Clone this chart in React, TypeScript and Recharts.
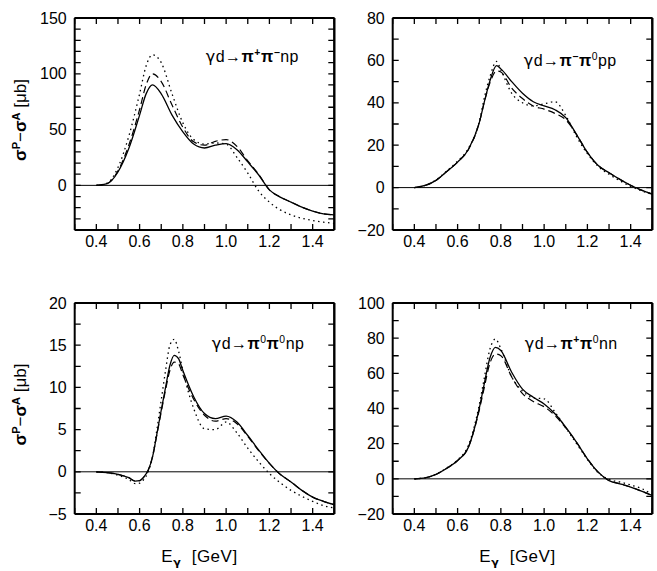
import { LineChart, Line, XAxis, YAxis, ReferenceLine } from 'recharts';

// photon energy axis (GeV)
const xTicks = [0.3, 0.4, 0.5, 0.6, 0.7, 0.8, 0.9, 1.0, 1.1, 1.2, 1.3, 1.4, 1.5];
const xLabels = [0.4, 0.6, 0.8, 1.0, 1.2, 1.4];

// gamma d -> pi+ pi- n p
const e1 = [0.4, 0.45, 0.5, 0.55, 0.6, 0.63, 0.66, 0.7, 0.75, 0.8, 0.85, 0.9, 0.95, 1.0, 1.05, 1.1, 1.15, 1.2, 1.25, 1.3, 1.35, 1.4, 1.45, 1.5];
const solid1 = [0, 1.5, 12, 33, 63, 82, 90, 82, 63, 48, 37, 33.5, 36, 37.5, 32, 21, 9.5, -4, -10.5, -15, -19.5, -23, -25.5, -26.5];
const dashed1 = [0, 1.6, 13, 36, 68, 90, 100, 93, 72, 52, 39, 36, 39.5, 41, 35, 22, 10, -4, -10.5, -15, -19.5, -23, -25.5, -26.5];
const dotted1 = [0, 2, 16, 44, 82, 107, 117, 110, 82, 56, 41, 37, 38, 37, 25, 11, -5, -15, -22, -26.5, -29.5, -31.5, -33, -34];
const yTicks1 = [-40, -30, -20, -10, 0, 10, 20, 30, 40, 50, 60, 70, 80, 90, 100, 110, 120, 130, 140, 150];
const yLabels1 = [0, 50, 100, 150];

// gamma d -> pi- pi0 p p
const e2 = [0.4, 0.45, 0.5, 0.55, 0.6, 0.65, 0.7, 0.725, 0.75, 0.78, 0.8, 0.85, 0.9, 0.95, 1.0, 1.05, 1.1, 1.15, 1.2, 1.25, 1.3, 1.35, 1.4, 1.45, 1.5];
const solid2 = [0, 1, 3.4, 7.6, 12, 18, 30.5, 41, 50.5, 57.5, 56, 50, 44.5, 40.5, 38.5, 36.7, 33, 25, 16.6, 10.4, 7, 3.9, 1.1, -1.2, -3.1];
const dashed2 = [0, 1, 3.4, 7.6, 12, 18, 30.5, 41, 49.5, 55, 54.5, 47, 42, 38.5, 37, 35, 32, 25, 16.6, 10.4, 7, 3.9, 1.1, -1.2, -3.1];
const dotted2 = [0, 1, 3.6, 7.8, 12.5, 18.5, 31, 43, 52.5, 59.5, 55.5, 44.5, 40, 38.5, 39.5, 40.5, 34, 24, 16, 10, 6.3, 3.2, 0.6, -1.5, -3.2];
const yTicks2 = [-20, -10, 0, 10, 20, 30, 40, 50, 60, 70, 80];
const yLabels2 = [-20, 0, 20, 40, 60, 80];

// gamma d -> pi0 pi0 n p
const e3 = [0.4, 0.45, 0.5, 0.55, 0.58, 0.6, 0.62, 0.64, 0.66, 0.68, 0.7, 0.72, 0.74, 0.76, 0.78, 0.8, 0.85, 0.9, 0.95, 1.0, 1.05, 1.1, 1.15, 1.2, 1.25, 1.3, 1.35, 1.4, 1.45, 1.5];
const solid3 = [0, -0.1, -0.3, -0.7, -1.1, -1.05, -0.6, 0.2, 1.8, 4.5, 7.3, 10, 12.6, 13.8, 13.4, 12, 8.9, 6.9, 6.3, 6.6, 5.9, 4.3, 2.6, 1.0, -0.3, -1.2, -2.2, -3.0, -3.5, -3.9];
const dashed3 = [0, -0.1, -0.3, -0.7, -1.1, -1.05, -0.6, 0.2, 1.8, 4.4, 7.1, 9.7, 12, 13.0, 12.8, 11.5, 8.6, 6.7, 6.0, 6.3, 5.7, 4.2, 2.5, 1.0, -0.3, -1.2, -2.2, -3.0, -3.5, -3.9];
const dotted3 = [0, -0.1, -0.4, -0.9, -1.4, -1.35, -0.9, 0.0, 1.8, 5, 8.5, 12, 15, 15.7, 14.3, 12, 7.5, 5.1, 5.0, 5.9, 4.6, 2.8, 1.2, -0.2, -1.3, -2.2, -2.9, -3.5, -4.0, -4.3];
const yTicks3 = [-5, -2.5, 0, 2.5, 5, 7.5, 10, 12.5, 15, 17.5, 20];
const yLabels3 = [-5, 0, 5, 10, 15, 20];

// gamma d -> pi+ pi0 n n
const e4 = [0.4, 0.45, 0.5, 0.55, 0.6, 0.65, 0.7, 0.72, 0.75, 0.775, 0.8, 0.85, 0.9, 0.95, 1.0, 1.05, 1.1, 1.15, 1.2, 1.25, 1.3, 1.35, 1.4, 1.45, 1.5];
const solid4 = [0, 0.6, 2.5, 6, 10.4, 18, 40, 52, 69, 74.8, 73, 60.6, 51, 46.4, 42.6, 37, 29.4, 20.8, 11.4, 3.8, -1, -2.8, -4.7, -7, -9.5];
const dashed4 = [0, 0.6, 2.5, 6, 10.4, 18, 39, 50, 66, 71, 70, 58, 48.5, 44, 41, 36, 29, 20.8, 11.4, 3.8, -1, -2.8, -4.7, -7, -9.5];
const dotted4 = [0, 0.6, 2.6, 6.2, 10.8, 19, 42, 55, 74, 79.5, 74, 58, 50, 46, 45.5, 38, 29, 20, 11, 3.5, -0.3, -1.8, -3.5, -5.5, -9];
const yTicks4 = [-20, -10, 0, 10, 20, 30, 40, 50, 60, 70, 80, 90, 100];
const yLabels4 = [-20, 0, 20, 40, 60, 80, 100];

const FONT = "'Liberation Sans', Arial, sans-serif";
const GAMMA = "'DejaVu Sans', sans-serif";
const FS = 16;
const TICK_PX = 6;
const X_DOMAIN: [number, number] = [0.3, 1.5];

type Seg = { t: string; sup?: boolean; sub?: boolean; bold?: boolean; font?: string };

const near = (list: number[], v: number) => list.some(l => Math.abs(l - v) < 1e-6);

function segs(list: Seg[], size: number) {
  let shift = 0;
  return list.map((s, i) => {
    const want = s.sup ? -6 : s.sub ? 4 : 0;
    const dy = want - shift;
    shift = want;
    return (
      <tspan key={i} dy={dy} fontSize={s.sup || s.sub ? size * 0.65 : size}
        fontWeight={s.bold ? 'bold' : 'normal'} fontFamily={s.font}>
        {s.t}
      </tspan>
    );
  });
}

const yTitle: Seg[] = [
  { t: '\u03c3', bold: true }, { t: 'P', sup: true, bold: true }, { t: '\u2212' },
  { t: '\u03c3', bold: true }, { t: 'A', sup: true, bold: true }, { t: '\u00a0[\u03bcb]' },
];
const xTitle: Seg[] = [{ t: 'E' }, { t: '\u03b3', sub: true, bold: true, font: GAMMA }, { t: '\u00a0\u00a0[GeV]' }];

interface PanelCfg {
  left: number; top: number; plotLeft: number; plotTop: number; plotW: number; plotH: number;
  e: number[]; solid: number[]; dashed: number[]; dotted: number[];
  domain: [number, number]; yTicks: number[]; yLabels: number[];
  title: Seg[]; titleDx: number; titleDy: number;
  yTitle?: boolean; xTitle?: boolean;
}

function Panel({ cfg }: { cfg: PanelCfg }) {
  const data = cfg.e.map((e, i) => ({ e, solid: cfg.solid[i], dashed: cfg.dashed[i], dotted: cfg.dotted[i] }));
  const yw = cfg.plotLeft - cfg.left;
  const W = yw + cfg.plotW + 6;
  const H = cfg.plotTop - cfg.top + cfg.plotH + 60;
  const frame = { stroke: '#000', strokeWidth: 2 };
  const tickFont = { fill: '#000', fontSize: FS, fontFamily: FONT };
  const px = cfg.plotLeft - cfg.left;
  const py = cfg.plotTop - cfg.top;
  const [y0, y1] = cfg.domain;
  const [x0, x1] = X_DOMAIN;
  const sx = (v: number) => px + ((v - x0) / (x1 - x0)) * cfg.plotW;
  const sy = (v: number) => py + cfg.plotH - ((v - y0) / (y1 - y0)) * cfg.plotH;
  const xFmt = (v: number) => (near(xLabels, v) ? v.toFixed(1) : '');
  const yFmt = (v: number) => (near(cfg.yLabels, v) ? (v < 0 ? '\u2212' + Math.abs(v) : String(v)) : '');
  const pr = px + cfg.plotW;
  const pb = py + cfg.plotH;
  return (
    <div style={{ position: 'absolute', left: cfg.left, top: cfg.top, width: W, height: H }}>
      <LineChart width={W} height={H} data={data} margin={{ top: py, right: 6, left: 0, bottom: 0 }}>
        <XAxis type="number" dataKey="e" domain={X_DOMAIN} allowDataOverflow ticks={xTicks}
          interval={0} tickLine={false} tickSize={0} tickMargin={6} tick={tickFont} tickFormatter={xFmt}
          height={60} axisLine={frame} />
        <YAxis type="number" domain={cfg.domain} allowDataOverflow ticks={cfg.yTicks}
          interval={0} tickLine={false} tickSize={0} tickMargin={8} tick={tickFont} tickFormatter={yFmt}
          width={yw} axisLine={frame} />
        <ReferenceLine y={y1} stroke="#000" strokeWidth={2} />
        <ReferenceLine x={x1} stroke="#000" strokeWidth={2} />
        <ReferenceLine y={0} stroke="#000" strokeWidth={1} />
        <Line type="monotone" dataKey="dotted" stroke="#000" strokeWidth={1.3}
          strokeDasharray="1.5 3.5" dot={false} isAnimationActive={false} />
        <Line type="monotone" dataKey="dashed" stroke="#000" strokeWidth={1.2}
          strokeDasharray="7 4" dot={false} isAnimationActive={false} />
        <Line type="monotone" dataKey="solid" stroke="#000" strokeWidth={1.3}
          dot={false} isAnimationActive={false} />
      </LineChart>
      <svg width={W} height={H} style={{ position: 'absolute', left: 0, top: 0, pointerEvents: 'none' }}>
        <line x1={px} x2={pr} y1={py} y2={py} stroke="black" strokeWidth={2} />
        <line x1={pr} x2={pr} y1={py} y2={pb} stroke="black" strokeWidth={2} />
        {xTicks.map(t => (
          <path key={'x' + t} d={`M${sx(t)},${pb}V${pb - TICK_PX}M${sx(t)},${py}V${py + TICK_PX}`}
            stroke="black" strokeWidth={1.3} fill="none" />
        ))}
        {cfg.yTicks.map(t => (
          <path key={'y' + t} d={`M${px},${sy(t)}H${px + TICK_PX}M${pr},${sy(t)}H${pr - TICK_PX}`}
            stroke="black" strokeWidth={1.3} fill="none" />
        ))}
        <text x={px + cfg.titleDx} y={py + cfg.titleDy} fontSize={FS} fontFamily={FONT} fill="#000" letterSpacing={0.5}>
          {segs(cfg.title, FS)}
        </text>
        {cfg.yTitle && (
          <text x={26} y={py + cfg.plotH / 2 - 4} transform={`rotate(-90 26 ${py + cfg.plotH / 2 - 4})`}
            textAnchor="middle" fontSize={17} fontFamily={FONT} fill="#000">
            {segs(yTitle, 17)}
          </text>
        )}
        {cfg.xTitle && (
          <text x={px + cfg.plotW / 2 - 5} y={py + cfg.plotH + 48} textAnchor="middle" fontSize={17} fontFamily={FONT}
            fill="#000" letterSpacing={0.5}>
            {segs(xTitle, 17)}
          </text>
        )}
      </svg>
    </div>
  );
}

const G: Seg = { t: '\u03b3', font: GAMMA };
const panels: PanelCfg[] = [
  {
    left: 0, top: 0, plotLeft: 74.7, plotTop: 18, plotW: 259.6, plotH: 212,
    e: e1, solid: solid1, dashed: dashed1, dotted: dotted1, domain: [-40, 150], yTicks: yTicks1, yLabels: yLabels1,
    title: [G, { t: 'd\u2192' }, { t: '\u03c0', bold: true }, { t: '+', sup: true, bold: true }, { t: '\u03c0', bold: true }, { t: '\u2212', sup: true, bold: true }, { t: 'np' }],
    titleDx: 131, titleDy: 44, yTitle: true,
  },
  {
    left: 330, top: 0, plotLeft: 392.7, plotTop: 18, plotW: 259.6, plotH: 212,
    e: e2, solid: solid2, dashed: dashed2, dotted: dotted2, domain: [-20, 80], yTicks: yTicks2, yLabels: yLabels2,
    title: [G, { t: 'd\u2192' }, { t: '\u03c0', bold: true }, { t: '\u2212', sup: true, bold: true }, { t: '\u03c0', bold: true }, { t: '0', sup: true }, { t: 'pp' }],
    titleDx: 131, titleDy: 48,
  },
  {
    left: 0, top: 285, plotLeft: 74.7, plotTop: 303, plotW: 259.6, plotH: 211,
    e: e3, solid: solid3, dashed: dashed3, dotted: dotted3, domain: [-5, 20], yTicks: yTicks3, yLabels: yLabels3,
    title: [G, { t: 'd\u2192' }, { t: '\u03c0', bold: true }, { t: '0', sup: true }, { t: '\u03c0', bold: true }, { t: '0', sup: true }, { t: 'np' }],
    titleDx: 137, titleDy: 46, yTitle: true, xTitle: true,
  },
  {
    left: 330, top: 285, plotLeft: 392.7, plotTop: 303, plotW: 259.6, plotH: 211,
    e: e4, solid: solid4, dashed: dashed4, dotted: dotted4, domain: [-20, 100], yTicks: yTicks4, yLabels: yLabels4,
    title: [G, { t: 'd\u2192' }, { t: '\u03c0', bold: true }, { t: '+', sup: true, bold: true }, { t: '\u03c0', bold: true }, { t: '0', sup: true }, { t: 'nn' }],
    titleDx: 132, titleDy: 46, xTitle: true,
  },
];

export default function App() {
  return (
    <div style={{ position: 'absolute', left: 0, top: 0, width: 657, height: 571, background: '#fff', overflow: 'hidden', fontFamily: FONT }}>
      {panels.map((p, i) => <Panel key={i} cfg={p} />)}
    </div>
  );
}
